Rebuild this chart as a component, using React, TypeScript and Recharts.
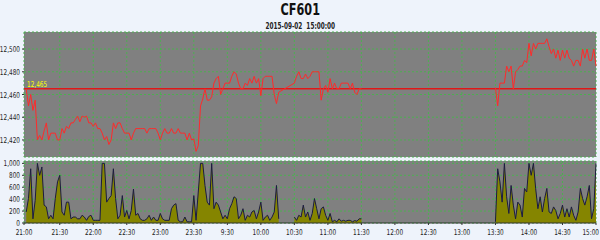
import React from "react";
import {
  Area,
  AreaChart,
  CartesianGrid,
  Line,
  LineChart,
  ReferenceLine,
  XAxis,
  YAxis,
} from "recharts";

// minutes since 21:00, day session continues after 23:30 at 9:00
const tickMinutes = [-2, 30, 60, 90, 120, 150, 180, 210, 240, 270, 300, 330, 360, 390, 420, 450, 480, 510];
const timeLabels = [
  "21:00", "21:30", "22:00", "22:30", "23:00", "23:30", "9:30", "10:00", "10:30",
  "11:00", "11:30", "12:00", "12:30", "13:00", "13:30", "14:00", "14:30", "15:00",
];
const priceTicks = [12420, 12440, 12460, 12480, 12500];
const volumeTicks = [0, 200, 400, 600, 800, 1000];
const settlePrice = 12465;

// 2-minute samples per session block
const nightPrice = [
  12465, 12450, 12460, 12446, 12455, 12420, 12424, 12420, 12428, 12435,
  12420, 12426, 12426, 12426, 12420, 12420, 12430, 12426, 12432, 12430,
  12435, 12435, 12438, 12441, 12436, 12441, 12440, 12441, 12435, 12435,
  12432, 12435, 12430, 12430, 12426, 12420, 12423, 12416, 12420, 12435,
  12430, 12435, 12435, 12430, 12426, 12426, 12426, 12420, 12426, 12430,
  12430, 12430, 12430, 12430, 12426, 12430, 12430, 12430, 12430, 12426,
  12420, 12426, 12430, 12426, 12426, 12430, 12426, 12426, 12430, 12426,
  12426, 12426, 12420, 12426, 12420,
];
const morningPrice = [
  12421, 12410, 12415, 12450, 12456, 12465, 12455, 12455, 12458, 12470,
  12474, 12476, 12460, 12465, 12470, 12470, 12470, 12476, 12480, 12478,
  12470, 12465, 12465, 12470, 12468, 12474, 12470, 12476, 12470, 12474,
  12459, 12474, 12476, 12476, 12476, 12476, 12460, 12452, 12462,
];
const noonPrice = [
  12470, 12476, 12480, 12474, 12474, 12478, 12474, 12476, 12480, 12480,
  12480, 12480, 12455, 12465, 12468, 12462, 12474, 12465, 12470, 12465,
  12465, 12470, 12470, 12470, 12470, 12465, 12470, 12462, 12460, 12465,
  12465,
];
const afternoonPrice = [
  12466, 12450, 12470, 12470, 12470, 12485, 12480, 12485, 12465, 12480,
  12482, 12485, 12485, 12490, 12488, 12505, 12494, 12505, 12500, 12505,
  12505, 12505, 12505, 12509, 12502, 12496, 12500, 12492, 12499, 12490,
  12499, 12492, 12499, 12492, 12490, 12485, 12490, 12490, 12485, 12500,
  12492, 12500, 12490, 12490, 12500, 12485,
];

const nightVolume = [
  185, 410, 910, 70, 380, 1000, 800, 940, 300, 270,
  70, 130, 70, 410, 690, 800, 185, 130, 350, 350,
  70, 100, 100, 70, 70, 130, 100, 45, 110, 130,
  45, 45, 45, 45, 1000, 1000, 350, 410, 460, 910,
  410, 70, 130, 460, 100, 210, 70, 210, 570, 130,
  160, 70, 45, 45, 70, 130, 45, 100, 45, 45,
  160, 70, 45, 45, 45, 240, 300, 325, 45, 20,
  20, 100, 20, 20, 20,
];
const morningVolume = [
  460, 45, 520, 1000, 1000, 630, 350, 300, 1000, 240,
  350, 300, 185, 70, 130, 70, 240, 325, 440, 410,
  70, 130, 240, 45, 130, 100, 185, 210, 70, 185,
  350, 45, 100, 130, 45, 100, 185, 630, 70,
];
const noonVolume = [
  100, 45, 130, 100, 300, 100, 185, 45, 160, 410,
  240, 70, 240, 270, 130, 45, 160, 20, 45, 20,
  70, 30, 45, 30, 45, 45, 20, 40, 30, 70,
  70,
];
const afternoonVolume = [
  20, 910, 690, 350, 1000, 440, 160, 630, 300, 70,
  350, 300, 100, 580, 520, 1000, 800, 1000, 575, 240,
  440, 185, 410, 580, 185, 160, 270, 210, 70, 160,
  300, 100, 240, 100, 270, 130, 45, 185, 580, 410,
  300, 440, 630, 70, 240, 1000,
];

const seg = (start: number, values: number[]) => values.map((v, i) => ({ m: start + i * 2, v }));

const priceRows = [
  ...seg(0, nightPrice),
  ...seg(150, morningPrice),
  ...seg(240, noonPrice),
  { m: 360, v: null },
  ...seg(420, afternoonPrice),
];
const volumeRows = [
  ...seg(0, nightVolume),
  ...seg(150, morningVolume),
  { m: 232, v: null },
  ...seg(240, noonVolume),
  { m: 360, v: null },
  ...seg(420, afternoonVolume),
];

const font = "'DejaVu Sans', sans-serif";
const fmt = (v: number) => v.toLocaleString("en-US");
const lastTick = tickMinutes[tickMinutes.length - 1];
const labelFor = (m: number) => timeLabels[tickMinutes.indexOf(m)] ?? "";

// the source uses a narrow bitmap font, squeeze DejaVu horizontally
function YTick({ x, y, payload }: any) {
  return (
    <g transform={`translate(${x},${y}) scale(0.72,1)`}>
      <text textAnchor="end" dy={3} fontSize={8} fill="#222" fontFamily={font}>
        {fmt(payload.value)}
      </text>
    </g>
  );
}

function XTick({ x, y, payload }: any) {
  // last label would run off the page, pin its right edge instead
  const isLast = payload.value === lastTick;
  return (
    <g transform={`translate(${isLast ? x + 3 : x},${y}) scale(0.72,1)`}>
      <text textAnchor={isLast ? "end" : "middle"} dy={8} fontSize={8} fill="#222" fontFamily={font}>
        {labelFor(payload.value)}
      </text>
    </g>
  );
}

function SettleLabel({ viewBox }: any) {
  return (
    <g transform={`translate(${viewBox.x + 3},${viewBox.y - 2}) scale(0.72,1)`}>
      <text fontSize={8} fill="#ffff00" fontFamily={font}>
        {fmt(settlePrice)}
      </text>
    </g>
  );
}

export default function App() {
  return (
    <div style={{ position: "relative", width: 600, height: 240, background: "#eef3fb", fontFamily: font }}>
      <style>{"body{margin:0}"}</style>
      <div style={{ position: "absolute", top: 2, width: 600, textAlign: "center", lineHeight: "16px" }}>
        <span style={{ display: "inline-block", transform: "scaleX(0.75)", fontSize: 15, fontWeight: "bold", color: "#111" }}>
          CF601
        </span>
      </div>
      <div style={{ position: "absolute", top: 19, width: 600, textAlign: "center", lineHeight: "9px" }}>
        <span style={{ display: "inline-block", transform: "scaleX(0.72)", fontSize: 8, fontWeight: "bold", color: "#222" }}>
          2015-09-02&nbsp;&nbsp;15:00:00
        </span>
      </div>

      <div style={{ position: "absolute", top: 0, left: 0 }}>
        <LineChart width={600} height={160} data={priceRows} margin={{ top: 32, right: 4, bottom: 3, left: 0 }}>
          <CartesianGrid fill="#808080" stroke="#4caf50" strokeDasharray="2 2" />
          <XAxis dataKey="m" type="number" domain={[-2, 510]} ticks={tickMinutes} hide />
          <YAxis
            domain={[12405, 12515]}
            ticks={priceTicks}
            width={24}
            tick={<YTick />}
            tickSize={2}
            axisLine={false}
            stroke="#333"
            interval={0}
          />
          <ReferenceLine y={settlePrice} stroke="#e01818" strokeWidth={1.5} label={<SettleLabel />} />
          <Line dataKey="v" type="linear" stroke="#ff2a2a" strokeWidth={1} dot={false} isAnimationActive={false} />
        </LineChart>
      </div>

      <div style={{ position: "absolute", top: 158, left: 0 }}>
        <AreaChart width={600} height={82} data={volumeRows} margin={{ top: 3, right: 4, bottom: 0, left: 0 }}>
          <CartesianGrid fill="#808080" stroke="#4caf50" strokeDasharray="2 2" />
          <XAxis
            dataKey="m"
            type="number"
            domain={[-2, 510]}
            ticks={tickMinutes}
            tick={<XTick />}
            tickSize={2}
            height={17}
            stroke="#333"
            interval={0}
          />
          <YAxis
            domain={[0, 1040]}
            ticks={volumeTicks}
            width={24}
            tick={<YTick />}
            tickSize={2}
            axisLine={false}
            stroke="#333"
            interval={0}
          />
          <Area
            dataKey="v"
            type="linear"
            stroke="#1c1c40"
            strokeWidth={1}
            fill="#858500"
            fillOpacity={1}
            isAnimationActive={false}
          />
        </AreaChart>
      </div>
    </div>
  );
}
